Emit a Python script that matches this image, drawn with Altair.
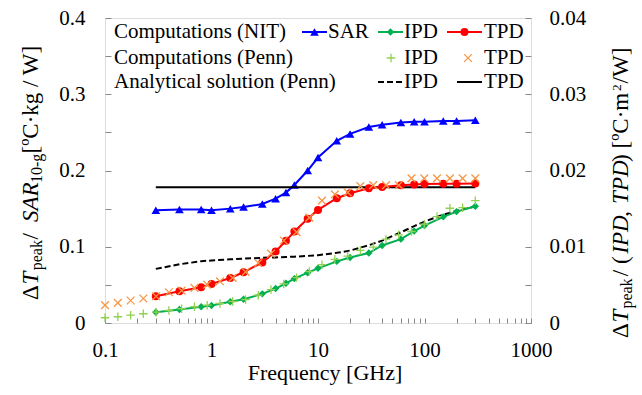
import altair as alt
import pandas as pd

FONT = "Liberation Serif"

# ---------------- data ----------------
freq_nit = [0.3, 0.5, 0.8, 1, 1.5, 2, 3, 4, 5, 6, 8, 10, 15, 20, 30, 40, 60, 80, 100, 150, 200, 300]
sar_nit = [0.148, 0.149, 0.149, 0.148, 0.150, 0.152, 0.156, 0.163, 0.171, 0.181, 0.200, 0.217,
           0.239, 0.248, 0.257, 0.260, 0.263, 0.264, 0.264, 0.265, 0.265, 0.266]
ipd_nit = [0.00142, 0.00178, 0.00213, 0.00230, 0.00278, 0.00312, 0.00382, 0.00452, 0.00521, 0.00582,
           0.00660, 0.00717, 0.00808, 0.00860, 0.00918, 0.01017, 0.01100, 0.01205, 0.01278, 0.01392,
           0.01461, 0.01531]
tpd_nit = [0.00351, 0.00417, 0.00469, 0.00513, 0.00591, 0.00665, 0.00795, 0.00939, 0.01078, 0.01200,
           0.01366, 0.01483, 0.01636, 0.01701, 0.01766, 0.01783, 0.01805, 0.01818, 0.01822, 0.01826,
           0.01826, 0.01831]
ipd_ana = [0.0071, 0.0077, 0.0081, 0.0082, 0.00835, 0.00845, 0.00855, 0.0086, 0.00865, 0.0087, 0.0088,
           0.0089, 0.0092, 0.0095, 0.0102, 0.0108, 0.0119, 0.0127, 0.0133, 0.0142, 0.0147, 0.0153]
freq_tpd_ana = [0.3, 300]
tpd_ana = [0.0178, 0.0178]

freq_penn = [0.1, 0.132, 0.174, 0.229, 0.302, 0.398, 0.524, 0.691, 0.911, 1.2, 1.58, 2.09, 2.75, 3.62,
             4.77, 6.29, 8.29, 10.9, 14.4, 19.0, 25.0, 33.0, 43.5, 57.3, 75.5, 99.5, 131, 173, 228, 300]
ipd_penn = [0.00069, 0.00082, 0.00103, 0.00121, 0.00142, 0.00164, 0.00187, 0.00213, 0.00234, 0.00256,
            0.00282, 0.00308, 0.00365, 0.00439, 0.00513, 0.00595, 0.00674, 0.00765, 0.00835, 0.00878,
            0.00952, 0.00996, 0.01100, 0.01157, 0.01200, 0.01296, 0.01396, 0.01505, 0.01513, 0.01604]
tpd_penn = [0.00234, 0.00265, 0.00295, 0.00321, 0.00351, 0.00403, 0.00425, 0.00460, 0.00504, 0.00547,
            0.00591, 0.00670, 0.00787, 0.00909, 0.01082, 0.01192, 0.01383, 0.01604, 0.01688, 0.01714,
            0.01796, 0.01809, 0.01809, 0.01809, 0.01897, 0.01897, 0.01897, 0.01897, 0.01897, 0.01897]

x_ticks = [0.1, 0.2, 0.3, 0.4, 0.5, 0.6, 0.7, 0.8, 0.9,
           1, 2, 3, 4, 5, 6, 7, 8, 9,
           10, 20, 30, 40, 50, 60, 70, 80, 90,
           100, 200, 300, 400, 500, 600, 700, 800, 900, 1000]
x_labels = "[0.1, 1, 10, 100, 1000]"
yl_ticks = [0, 0.05, 0.1, 0.15, 0.2, 0.25, 0.3, 0.35, 0.4]
yl_labels = "[0, 0.1, 0.2, 0.3, 0.4]"
yr_ticks = [0, 0.005, 0.01, 0.015, 0.02, 0.025, 0.03, 0.035, 0.04]
yr_labels = "[0, 0.01, 0.02, 0.03, 0.04]"

BLUE = "#0000FF"
GREEN = "#00B050"
RED = "#FF0000"
LGREEN = "#92D050"
ORANGE = "#F79646"
PLUS = "M-1,0L1,0M0,-1L0,1"
CROSS = "M-1,-1L1,1M-1,1L1,-1"

df_nit = pd.DataFrame({"f": freq_nit, "sar": sar_nit, "ipd": ipd_nit, "tpd": tpd_nit, "ana": ipd_ana})
df_penn = pd.DataFrame({"f": freq_penn, "ipd": ipd_penn, "tpd": tpd_penn})
df_tana = pd.DataFrame({"f": freq_tpd_ana, "v": tpd_ana})
one = pd.DataFrame({"a": [0]})

common_axis = dict(domain=False, grid=False, labelFont=FONT, labelFontSize=21, labelColor="black",
                   tickColor="#888", tickWidth=1, labelOverlap=False, labelBound=False, title=None)

xaxis = alt.Axis(values=x_ticks, orient="bottom", offset=-5, tickSize=5, labelPadding=16,
                 labelFlush=False,
                 labelExpr=f"indexof({x_labels}, datum.value) >= 0 ? format(datum.value, '~g') : ''",
                 **common_axis)
ylaxis = alt.Axis(values=yl_ticks, orient="left", offset=-6, tickSize=6, labelPadding=20,
                  labelExpr=f"indexof({yl_labels}, datum.value) >= 0 ? format(datum.value, '~g') : ''",
                  **common_axis)
yraxis = alt.Axis(values=yr_ticks, orient="right", offset=-6, tickSize=6, labelPadding=18,
                  labelExpr=f"indexof({yr_labels}, datum.value) >= 0 ? format(datum.value, '~g') : ''",
                  **common_axis)

X = alt.X("f:Q", scale=alt.Scale(type="log", domain=[0.1, 1000]), axis=xaxis)


def YL(field):
    return alt.Y(f"{field}:Q", scale=alt.Scale(domain=[0, 0.4]), axis=ylaxis)


def YR(field):
    return alt.Y(f"{field}:Q", scale=alt.Scale(domain=[0, 0.04]), axis=yraxis)


# ---------------- left axis group (SAR) ----------------
left = alt.layer(
    alt.Chart(df_nit).mark_line(color=BLUE, strokeWidth=2).encode(x=X, y=YL("sar")),
    alt.Chart(df_nit).mark_point(shape="triangle-up", filled=True, size=75, color=BLUE, opacity=1)
    .encode(x=X, y=YL("sar")),
)

# ---------------- right axis group (IPD/TPD) ----------------
right = alt.layer(
    alt.Chart(df_nit).mark_line(color="black", strokeWidth=2, strokeDash=[6, 3]).encode(x=X, y=YR("ana")),
    alt.Chart(df_tana).mark_line(color="black", strokeWidth=2).encode(x=X, y=YR("v")),
    alt.Chart(df_nit).mark_line(color=GREEN, strokeWidth=2).encode(x=X, y=YR("ipd")),
    alt.Chart(df_nit).mark_point(shape="diamond", filled=True, size=55, color=GREEN, opacity=1)
    .encode(x=X, y=YR("ipd")),
    alt.Chart(df_nit).mark_line(color=RED, strokeWidth=2).encode(x=X, y=YR("tpd")),
    alt.Chart(df_nit).mark_point(shape="circle", filled=True, size=64, color=RED, opacity=1)
    .encode(x=X, y=YR("tpd")),
    alt.Chart(df_penn).mark_point(shape=PLUS, filled=False, size=72, color=LGREEN, strokeWidth=1.3, opacity=1)
    .encode(x=X, y=YR("ipd")),
    alt.Chart(df_penn).mark_point(shape=CROSS, filled=False, size=60, color=ORANGE, strokeWidth=1.3, opacity=1)
    .encode(x=X, y=YR("tpd")),
)

# ---------------- decorations: legend and axis titles ----------------
# coordinates below are page pixels; the plot area starts at (OX, OY)
OX, OY = 105, 18


def txt(s, x, y, size=21, italic=False, angle=0, align="left", baseline="middle"):
    kw = dict(text=s, x=x - OX, y=y - OY, font=FONT, fontSize=size, align=align, baseline=baseline,
              color="black", fontStyle="italic" if italic else "normal")
    if angle:
        kw["angle"] = angle
    return alt.Chart(one).mark_text(**kw).encode(opacity=alt.value(1))


def seg(x1, x2, y, color, dash=None):
    kw = dict(color=color, strokeWidth=2)
    if dash:
        kw["strokeDash"] = dash
    return alt.Chart(one).mark_rule(**kw).encode(x=alt.value(x1 - OX), x2=alt.value(x2 - OX),
                                                 y=alt.value(y - OY))


def sym(shape, x, y, color, size, filled=True):
    return alt.Chart(one).mark_point(shape=shape, filled=filled, size=size, color=color, x=x - OX,
                                     y=y - OY, opacity=1, strokeWidth=1.3).encode(opacity=alt.value(1))


R1, R2, R3 = 32, 58, 82
deco = [
    txt("Computations (NIT)", 114, R1),
    txt("Computations (Penn)", 114, R2),
    txt("Analytical solution (Penn)", 114, R3),
    seg(302, 327, R1, BLUE), sym("triangle-up", 314.5, R1, BLUE, 75), txt("SAR", 328, R1),
    seg(378, 403, R1, GREEN), sym("diamond", 390.5, R1, GREEN, 55), txt("IPD", 404, R1),
    seg(447, 482, R1, RED), sym("circle", 464.5, R1, RED, 64), txt("TPD", 484, R1),
    sym(PLUS, 391, R2, LGREEN, 72, filled=False), txt("IPD", 404, R2),
    sym(CROSS, 468, R2, ORANGE, 60, filled=False), txt("TPD", 484, R2),
    seg(378, 402, R3, "black", dash=[6, 3]), txt("IPD", 404, R3),
    seg(457, 482, R3, "black"), txt("TPD", 484, R3),
    # x title
    txt("Frequency [GHz]", 325, 380, size=22, align="center", baseline="alphabetic"),
]

# left y title (rotated), segments stacked upward
LB, LS = 38, 42
for s, y, size, it, bx in [
    ("Δ", 300, 23, False, LB), ("T", 284.6, 23, True, LB), ("peak", 270.3, 16, False, LS),
    (" / ", 239.5, 23, False, LB), ("SAR", 222, 23, True, LB), ("10-g", 183, 16, False, LS),
    (" [ºC·kg / W]", 153.5, 23, False, LB),
]:
    deco.append(txt(s, bx, y, size=size, italic=it, angle=270, align="left", baseline="alphabetic"))

# right y title (rotated)
RB, RS, RP = 628, 632, 621
for s, y, size, it, bx in [
    ("Δ", 338, 23, False, RB), ("T", 322.6, 23, True, RB), ("peak", 308.6, 16, False, RS),
    (" / (", 276.2, 23, False, RB), ("IPD", 253.7, 23, True, RB), (", ", 216.7, 23, False, RB),
    ("TPD", 203.9, 23, True, RB), (") [ºC·m", 161.9, 23, False, RB), ("2", 90.9, 13.5, False, RP),
    (" /W]", 83.4, 23, False, RB),
]:
    deco.append(txt(s, bx, y, size=size, italic=it, angle=270, align="left", baseline="alphabetic"))

decor = alt.layer(*deco)

chart = (
    alt.layer(left, right, decor)
    .resolve_scale(y="independent")
    .properties(width=426, height=305, autosize=alt.AutoSizeParams(type="none"),
                padding={"left": 105, "top": 18, "right": 111, "bottom": 72})
    .configure_view(stroke="#222", strokeWidth=1.5)
    .configure(background="white")
)

chart.save("out.html", embed_options={"renderer": "svg", "actions": False})
